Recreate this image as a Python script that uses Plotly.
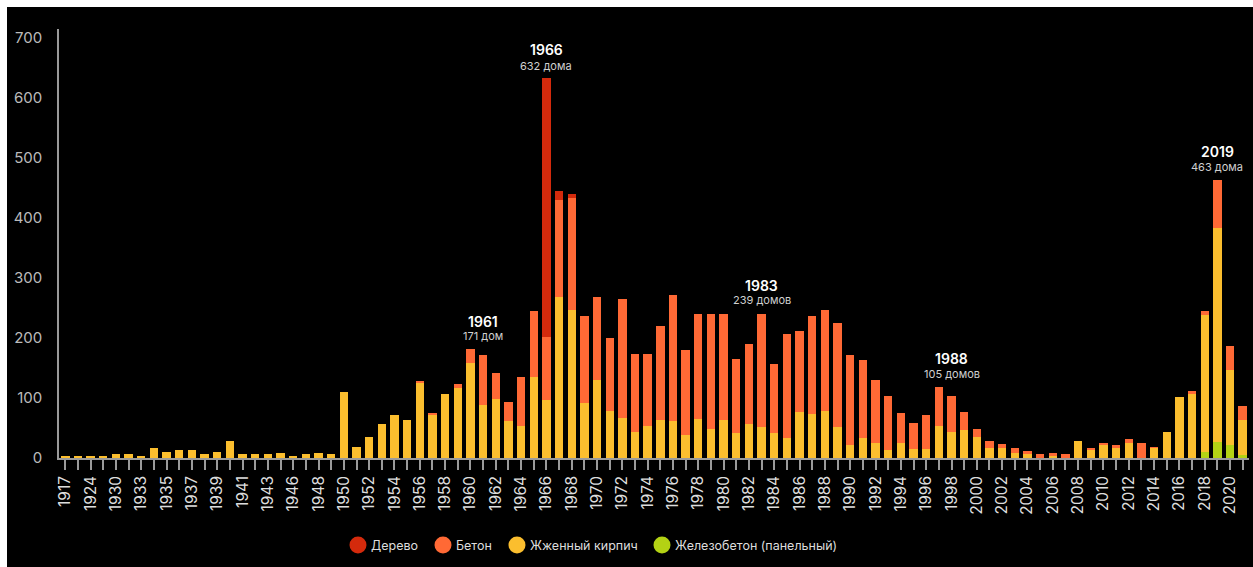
import plotly.graph_objects as go

years = ["1917", "1920", "1924", "1927", "1930", "1931", "1933", "1934", "1935", "1936",
         "1937", "1938", "1939", "1940", "1941", "1942", "1943", "1945", "1946", "1947",
         "1948", "1949"] + [str(y) for y in range(1950, 2022)]

brick = [2, 4, 4, 2, 6, 6, 4, 17, 10, 14, 14, 6, 10, 29, 6, 6, 6, 8, 4, 6, 8, 6,
         110, 19, 35, 56, 71, 64, 125, 72, 106, 117,          # 1950-1959
         158, 89, 98, 62, 54, 135, 96, 268, 247, 92,          # 1960-1969
         130, 78, 66, 44, 54, 63, 61, 39, 65, 48,             # 1970-1979
         63, 41, 56, 52, 42, 34, 77, 73, 79, 52,              # 1980-1989
         22, 34, 25, 13, 25, 15, 15, 53, 44, 47,              # 1990-1999
         35, 17, 17, 8, 6, 0, 4, 0, 29, 14,                   # 2000-2009
         22, 17, 25, 0, 17, 44, 102, 106, 228, 356,           # 2010-2019
         124, 59]                                             # 2020-2021

concrete = [0] * 22 + [
         0, 0, 0, 0, 0, 0, 2, 2, 0, 7,
         24, 82, 44, 32, 80, 110, 106, 161, 186, 145,
         138, 122, 199, 129, 119, 156, 210, 141, 175, 192,
         177, 124, 134, 187, 115, 172, 134, 163, 167, 172,
         150, 129, 104, 91, 50, 43, 57, 66, 60, 30,
         13, 12, 6, 8, 6, 6, 4, 6, 0, 3,
         3, 4, 6, 25, 1, 0, 0, 5, 6, 80,
         41, 22]

wood = [0] * 94
wood[years.index("1966")] = 430
wood[years.index("1967")] = 15
wood[years.index("1968")] = 6

panel = [0] * 94
panel[years.index("2018")] = 10
panel[years.index("2019")] = 27
panel[years.index("2020")] = 22
panel[years.index("2021")] = 5

names = ["Дерево", "Бетон", "Жженный кирпич", "Железобетон (панельный)"]
colors = ["#d42a0c", "#ff6935", "#fbbe2e", "#b3d214"]

# annotations: (year label, subtitle, bar category, px shift of subtitle, px shift of title)
notes = [("1961", "171 дом", "1961", 19, 34),
         ("1966", "632 дома", "1966", 12, 29),
         ("1983", "239 домов", "1983", 14, 29),
         ("1988", "105 домов", "1998", 22, 37),
         ("2019", "463 дома", "2019", 13, 28)]

W, H = 1253, 567
L, R, T, B = 59, 4, 29, 109
pw, ph = W - L - R, H - T - B


def px_x(x):
    return (x - L) / pw


def px_y(y):
    return (T + ph - y) / ph


fig = go.Figure()
series = [(panel, colors[3], names[3]), (brick, colors[2], names[2]),
          (concrete, colors[1], names[1]), (wood, colors[0], names[0])]
for vals, col, n in series:
    fig.add_trace(go.Bar(x=years, y=vals, name=n, marker=dict(color=col, line=dict(width=0)),
                         showlegend=False))

totals = [a + b + c + d for a, b, c, d in zip(brick, concrete, wood, panel)]
for title, sub, cat, s1, s2 in notes:
    i = years.index(cat)
    tot = totals[i]
    fig.add_annotation(x=i, y=tot, text=sub, showarrow=False, yanchor="middle",
                       yshift=s1, font=dict(family="Inter", size=11, color="#d0d0d0"))
    fig.add_annotation(x=i, y=tot, text=title, showarrow=False,
                       yanchor="middle", yshift=s2,
                       font=dict(family="Inter", size=14, color="#ffffff", weight=600))

# custom legend with round markers
legend_x = [358, 443, 517, 662]
legend_y = 545
for n, c, lx in zip(names, colors, legend_x):
    fig.add_shape(type="circle", xref="paper", yref="paper",
                  xsizemode="pixel", ysizemode="pixel",
                  xanchor=px_x(lx), yanchor=px_y(legend_y),
                  x0=-8.5, x1=8.5, y0=-8.5, y1=8.5,
                  fillcolor=c, line=dict(width=0))
    fig.add_annotation(xref="paper", yref="paper", x=px_x(lx + 11), y=px_y(legend_y),
                       text=n, showarrow=False, xanchor="left", yanchor="middle",
                       font=dict(family="Inter", size=12.5, color="#dddddd"))

ticktext = [y if i % 2 == 0 else "" for i, y in enumerate(years)]

fig.add_shape(type="rect", xref="paper", yref="paper", layer="below",
              x0=px_x(7), x1=px_x(W + 5), y0=px_y(H + 5), y1=px_y(7),
              fillcolor="#000000", line=dict(width=0))

fig.update_layout(
    width=W, height=H,
    margin=dict(l=L, r=R, t=T, b=B),
    paper_bgcolor="#ffffff", plot_bgcolor="rgba(0,0,0,0)",
    barmode="stack", bargap=0.34, showlegend=False,
    font=dict(family="Inter", color="#cccccc"),
    xaxis=dict(type="category", tickmode="array", tickvals=years, ticktext=ticktext,
               tickangle=-90, ticks="outside", ticklen=10, tickcolor="#9a9a9a",
               tickwidth=1.5, showline=True, linecolor="#9a9a9a", linewidth=1.5,
               showgrid=False, tickfont=dict(family="Inter", size=15.5, color="#dddddd"),
               range=[-0.5, 93.5]),
    yaxis=dict(range=[0, 714], tickvals=[0, 100, 200, 300, 400, 500, 600, 700],
               showgrid=False, zeroline=False, showline=True, linecolor="#9a9a9a",
               linewidth=1.5, ticks="", ticklabelstandoff=12,
               tickfont=dict(family="Inter", size=15, color="#bbbbbb")),
)

fig.write_html("out.html")
